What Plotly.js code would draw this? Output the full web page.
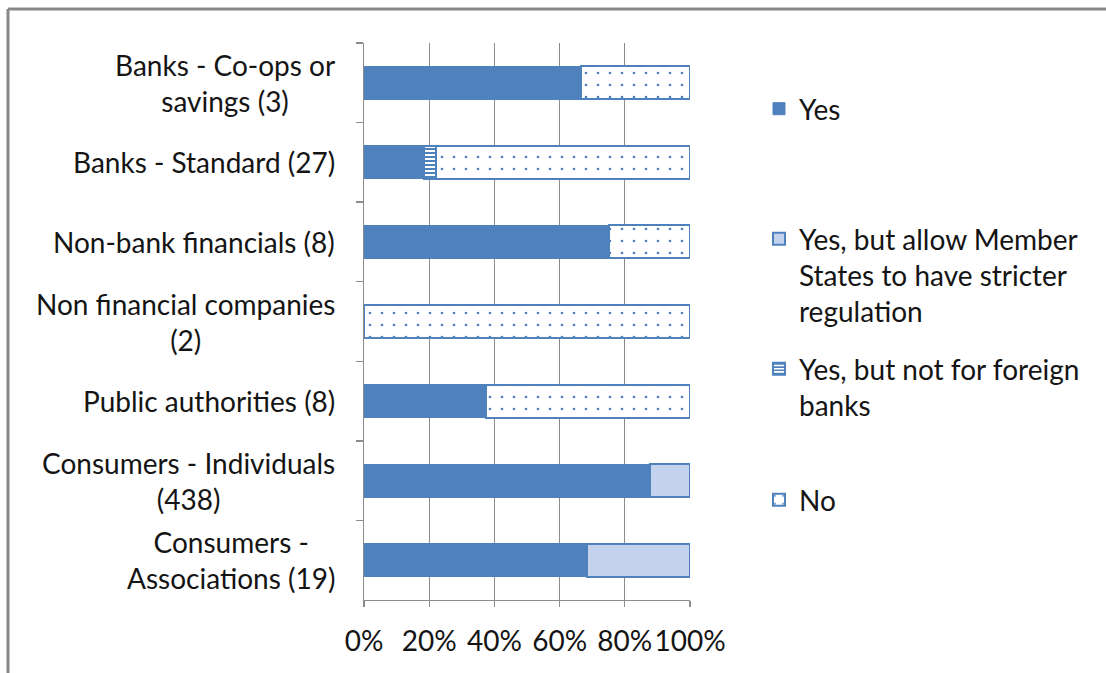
<!DOCTYPE html>
<html>
<head>
<meta charset="utf-8">
<script src="https://cdn.plot.ly/plotly-3.0.1.min.js"></script>
<style>
  html, body { margin: 0; padding: 0; background: #ffffff; }
  #chart { width: 1106px; height: 673px; }
</style>
</head>
<body>
<div id="chart"></div>
<script>
// ---- data ----
const categories = [
  'Banks - Co-ops or<br>savings (3)',
  'Banks - Standard (27)',
  'Non-bank financials (8)',
  'Non financial companies<br>(2)',
  'Public authorities (8)',
  'Consumers - Individuals<br>(438)',
  'Consumers -<br>Associations (19)'
];
const seriesNames = [
  'Yes',
  'Yes, but allow Member<br>States to have stricter<br>regulation',
  'Yes, but not for foreign<br>banks',
  'No'
];
const yesValues = [66.7, 18.5, 75.0, 0, 37.5, 87.7, 68.4];
const memberStatesValues = [0, 0, 0, 0, 0, 12.3, 31.6];
const notForeignValues = [0, 3.7, 0, 0, 0, 0, 0];
const noValues = [33.3, 77.8, 25.0, 100, 62.5, 0, 0];
const xTickValues = [0, 20, 40, 60, 80, 100];
const xTickLabels = ['0%', '20%', '40%', '60%', '80%', '100%'];

// ---- styling ----
const BLUE = '#4F81BD';
const FONT = 'Lato, "Open Sans", sans-serif';
const TEXT = '#141414';
const GRID = '#8c8c8c';
const FS = 28;

const clean = arr => arr.map(v => (v === 0 ? null : v));

const traces = [
  {
    name: seriesNames[0], y: categories, x: clean(yesValues),
    type: 'bar', orientation: 'h', legend: 'legend',
    marker: { color: BLUE, line: { color: BLUE, width: 1 } }
  },
  {
    name: seriesNames[1], y: categories, x: clean(memberStatesValues),
    type: 'bar', orientation: 'h', legend: 'legend2',
    marker: { color: '#C4D2EE', line: { color: BLUE, width: 2 } }
  },
  {
    name: seriesNames[2], y: categories, x: clean(notForeignValues),
    type: 'bar', orientation: 'h', legend: 'legend3',
    marker: {
      color: '#ffffff', line: { color: BLUE, width: 2 },
      pattern: { shape: '-', fgcolor: BLUE, bgcolor: '#ffffff', size: 4, solidity: 0.5 }
    }
  },
  {
    name: seriesNames[3], y: categories, x: clean(noValues),
    type: 'bar', orientation: 'h', legend: 'legend4',
    marker: {
      color: '#ffffff', line: { color: BLUE, width: 2 },
      pattern: { shape: '.', fgcolor: BLUE, bgcolor: '#ffffff', size: 12, solidity: 0.04 }
    }
  }
];

// plot area in pixels: x 364..690, y 43..600
const W = 1106, H = 673;
const L = 364, R = 690, T = 43, B = 600;
const px = p => (p - L) / (R - L);
const py = p => (B - p) / (B - T);

function legendAt(topPx) {
  return {
    x: px(759), xanchor: 'left', y: py(topPx), yanchor: 'top',
    bgcolor: 'rgba(0,0,0,0)', borderwidth: 0,
    font: { family: FONT, size: FS, color: TEXT },
    valign: 'top', itemclick: false, itemdoubleclick: false
  };
}

// category labels, centre-aligned like the original
const categoryLabels = categories.map(c => ({
  text: c, xref: 'paper', x: px(337), xanchor: 'right',
  yref: 'y', y: c, yanchor: 'middle', showarrow: false, align: 'center',
  font: { family: FONT, size: FS, color: TEXT }
}));

const layout = {
  width: W, height: H,
  paper_bgcolor: '#ffffff', plot_bgcolor: '#ffffff',
  margin: { l: L, r: W - R, t: T, b: H - B, pad: 0 },
  barmode: 'stack',
  bargap: 0.585,
  showlegend: true,
  legend: legendAt(84),
  legend2: legendAt(214),
  legend3: legendAt(344),
  legend4: legendAt(475),
  font: { family: FONT, size: FS, color: TEXT },
  xaxis: {
    range: [0, 100], tickvals: xTickValues, ticktext: xTickLabels,
    showgrid: true, gridcolor: GRID, gridwidth: 1.3,
    showline: true, linecolor: GRID, linewidth: 1.3,
    ticks: 'outside', ticklen: 6, tickcolor: GRID, tickwidth: 1.3,
    ticklabelstandoff: 10, zeroline: false, fixedrange: true,
    tickfont: { family: FONT, size: FS, color: TEXT }
  },
  yaxis: {
    type: 'category', autorange: 'reversed',
    showgrid: false, showline: true, linecolor: GRID, linewidth: 1.3,
    ticks: 'outside', ticklen: 7, tickcolor: GRID, tickwidth: 1.3,
    tickson: 'boundaries', showticklabels: false, zeroline: false, fixedrange: true
  },
  annotations: categoryLabels,
  shapes: [
    { type: 'line', xref: 'paper', yref: 'paper', x0: px(8), x1: px(1106), y0: py(9), y1: py(9),
      line: { color: '#878787', width: 3 } },
    { type: 'line', xref: 'paper', yref: 'paper', x0: px(8), x1: px(8), y0: py(9), y1: py(673),
      line: { color: '#878787', width: 3 } }
  ]
};

Plotly.newPlot('chart', traces, layout, { displayModeBar: false, staticPlot: true });
</script>
</body>
</html>
